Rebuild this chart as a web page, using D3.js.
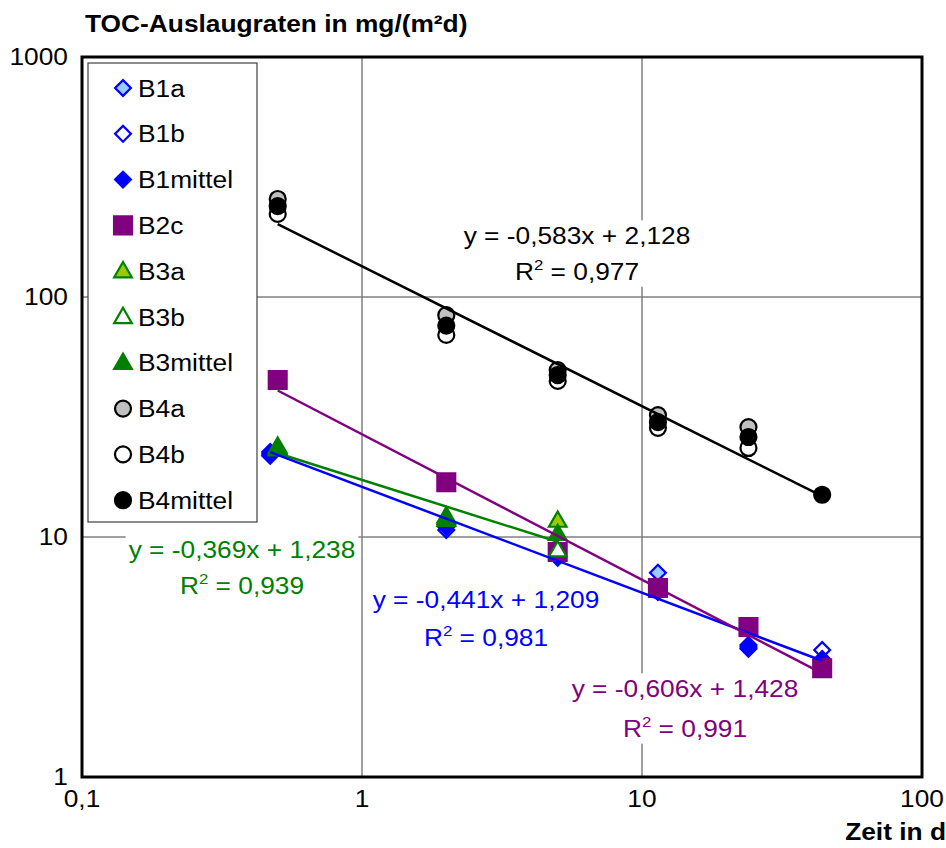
<!DOCTYPE html>
<html>
<head>
<meta charset="utf-8">
<script src="https://cdn.jsdelivr.net/npm/d3@7"></script>
<style>
  body { margin: 0; background: #fff; }
  text { font-family: Arial, "Liberation Sans", sans-serif; }
</style>
</head>
<body>
<svg id="chart" width="946" height="848"></svg>
<script>
// Data
const timesB1 = [0.47, 2, 5, 11.4, 24, 44];
const timesAll = [0.5, 2, 5, 11.4, 24, 44];
const timesB3 = [0.5, 2, 5];
const timesB4ab = [0.5, 2, 5, 11.4, 24];

const b1a = [22.6, 11.3, 8.6, 7.1, 3.55, 2.85];
const b1b = [21.8, 10.7, 8.2, 5.9, 3.42, 3.38];
const b1mittel = [22.2, 11.0, 8.4, 6.1, 3.48, 3.1];
const b2c = [45.1, 16.9, 8.66, 6.13, 4.22, 2.84];
const b3a = [23.8, 12.2, 11.7];
const b3b = [23.2, 11.8, 8.8];
const b3mittel = [23.5, 12.0, 10.3];
const b4a = [256, 84, 49.6, 32.2, 28.7];
const b4b = [222, 69.5, 44.7, 28.5, 23.5];
const b4mittel = [239, 76, 47.3, 30.1, 26.1, 15.0];

const xTicks = [0.1, 1, 10, 100];
const xTickLabels = ["0,1", "1", "10", "100"];
const yTicks = [1, 10, 100, 1000];
const yTickLabels = ["1", "10", "100", "1000"];

// trendlines: log10(y) = slope*log10(x) + icpt
const trendNames = ["B4mittel", "B3mittel", "B1mittel", "B2c"];
const trendSlopes = [-0.583, -0.369, -0.441, -0.606];
const trendIcpts = [2.128, 1.238, 1.209, 1.428];
const trendR2 = ["0,977", "0,939", "0,981", "0,991"];
const trendFrom = [0.5, 0.5, 0.47, 0.5];
const trendTo = [44, 5, 44, 44];

const blue = "#0000ff", purple = "#800080", green = "#008000", black = "#000000";

const series = [
  {name: "B1a", x: timesB1, y: b1a, shape: "diamond", fill: "#99ccff", stroke: blue},
  {name: "B1b", x: timesB1, y: b1b, shape: "diamond", fill: "#ffffff", stroke: blue},
  {name: "B1mittel", x: timesB1, y: b1mittel, shape: "diamond", fill: blue, stroke: blue},
  {name: "B2c", x: timesAll, y: b2c, shape: "square", fill: purple, stroke: purple},
  {name: "B3a", x: timesB3, y: b3a, shape: "triangle", fill: "#99cc00", stroke: green},
  {name: "B3b", x: timesB3, y: b3b, shape: "triangle", fill: "#ffffff", stroke: green},
  {name: "B3mittel", x: timesB3, y: b3mittel, shape: "triangle", fill: green, stroke: green},
  {name: "B4a", x: timesB4ab, y: b4a, shape: "circle", fill: "#c0c0c0", stroke: black},
  {name: "B4b", x: timesB4ab, y: b4b, shape: "circle", fill: "#ffffff", stroke: black},
  {name: "B4mittel", x: timesAll, y: b4mittel, shape: "circle", fill: black, stroke: black}
];
const trendColors = [black, green, blue, purple];

// Layout
const margin = {top: 57, right: 24, bottom: 71, left: 82},
  width = 946 - margin.left - margin.right,
  height = 848 - margin.top - margin.bottom;
const fs = 23.5, sx = 1.12;   // picture is stretched horizontally

const svg = d3.select("#chart");

function label(parent, x, y, str, anchor, bold) {
  return parent.append("text")
    .attr("transform", "translate(" + x + "," + y + ") scale(" + sx + ",1)")
    .attr("text-anchor", anchor || "start")
    .attr("font-size", fs)
    .attr("font-weight", bold ? "bold" : "normal")
    .text(str);
}

const x = d3.scaleLog().domain([0.1, 100]).range([0, width]);
const y = d3.scaleLog().domain([1, 1000]).range([height, 0]);

const g = svg.append("g")
  .attr("transform", "translate(" + margin.left + "," + margin.top + ")");

// grid
g.append("g").selectAll("line.gx")
  .data(xTicks.slice(1, -1))
  .enter().append("line")
    .attr("x1", d => x(d)).attr("x2", d => x(d))
    .attr("y1", 0).attr("y2", height)
    .attr("stroke", "#808080").attr("stroke-width", 1.5);
g.append("g").selectAll("line.gy")
  .data(yTicks.slice(1, -1))
  .enter().append("line")
    .attr("x1", 0).attr("x2", width)
    .attr("y1", d => y(d)).attr("y2", d => y(d))
    .attr("stroke", "#808080").attr("stroke-width", 1.5);

// tick labels
xTicks.forEach((t, i) => label(g, x(t), height + 30, xTickLabels[i], "middle"));
yTicks.forEach((t, i) => label(g, -14, y(t) + 8, yTickLabels[i], "end"));

// markers
function marker(sel, shape) {
  if (shape == "circle") return sel.append("circle").attr("r", 8);
  if (shape == "diamond") return sel.append("path")
    .attr("d", d3.symbol(d3.symbolSquare, 125)()).attr("transform", "rotate(45)");
  if (shape == "square") return sel.append("path").attr("d", d3.symbol(d3.symbolSquare, 320)());
  return sel.append("path").attr("d", d3.symbol(d3.symbolTriangle, 135)()).attr("transform", "translate(0,1)");
}

series.forEach(s => {
  const pts = g.append("g").selectAll("g")
    .data(s.x.map((t, i) => [t, s.y[i]]))
    .enter().append("g")
      .attr("transform", d => "translate(" + x(d[0]) + "," + y(d[1]) + ")");
  marker(pts, s.shape)
    .attr("fill", s.fill).attr("stroke", s.stroke).attr("stroke-width", 2.2);
});

// trendlines
trendNames.forEach((n, i) => {
  const f = t => Math.pow(10, trendSlopes[i] * Math.log10(t) + trendIcpts[i]);
  g.append("line")
    .attr("x1", x(trendFrom[i])).attr("y1", y(f(trendFrom[i])))
    .attr("x2", x(trendTo[i])).attr("y2", y(f(trendTo[i])))
    .attr("stroke", trendColors[i]).attr("stroke-width", 2.5);
});

// trendline labels (centre x, first baseline, line gap)
const eqPos = [[495, 187, 36], [160, 501, 36], [404, 551, 38], [603, 640, 40]];
trendNames.forEach((n, i) => {
  const lg = g.append("g").attr("fill", trendColors[i]);
  const fmt = v => v.toFixed(3).replace(".", ",");
  const eq = "y = " + fmt(trendSlopes[i]) + "x + " + fmt(trendIcpts[i]);
  const p = eqPos[i];
  label(lg, p[0], p[1], eq, "middle");
  const r = label(lg, p[0], p[1] + p[2], "", "middle");
  r.append("tspan").text("R");
  r.append("tspan").attr("dy", -10).attr("font-size", 15).text("2");
  r.append("tspan").attr("dy", 10).text(" = " + trendR2[i]);
  const bb = lg.node().getBBox();
  lg.insert("rect", ":first-child")
    .attr("x", bb.x - 3).attr("y", bb.y - 2)
    .attr("width", bb.width + 6).attr("height", bb.height + 4)
    .attr("fill", "#fff");
});

// legend
const legend = g.append("g").attr("transform", "translate(6,6)");
legend.append("rect")
  .attr("width", 169).attr("height", 459)
  .attr("fill", "#fff").attr("stroke", "#404040").attr("stroke-width", 1.2);
series.forEach((s, i) => {
  const item = legend.append("g").attr("transform", "translate(0," + (25 + i * 45.8) + ")");
  const m = item.append("g").attr("transform", "translate(35,0)");
  marker(m, s.shape).attr("fill", s.fill).attr("stroke", s.stroke).attr("stroke-width", 2.2);
  label(item, 50, 8.5, s.name);
});

// frame
g.append("rect")
  .attr("width", width).attr("height", height)
  .attr("fill", "none").attr("stroke", "#000").attr("stroke-width", 3);

// titles
label(svg, 85, 32, "TOC-Auslaugraten in mg/(m²d)", "start", true);
label(svg, 946, 840, "Zeit in d", "end", true);
</script>
</body>
</html>
